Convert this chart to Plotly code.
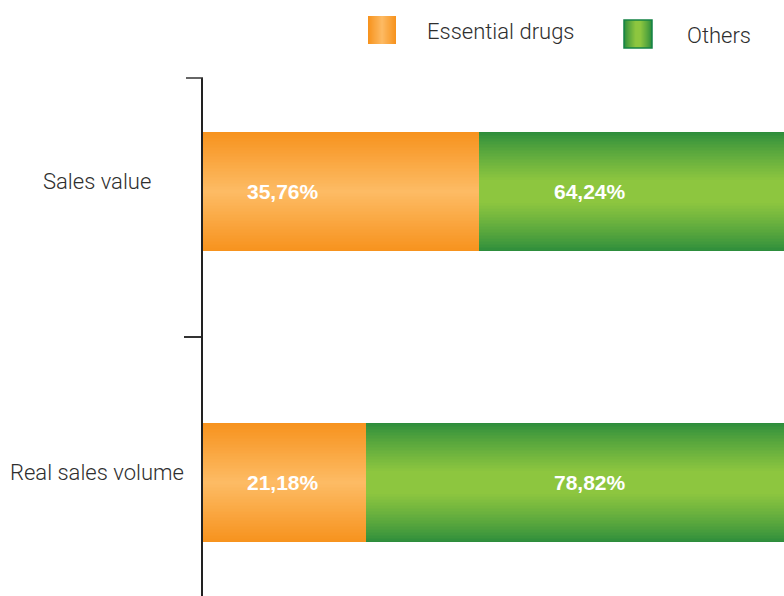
import plotly.graph_objects as go

categories = ["Sales value", "Real sales volume"]
essential = [35.76, 21.18]
others = [64.24, 78.82]
series_names = ["Essential drugs", "Others"]

W, H = 784, 596
L, R, T, B = 203, 0, 78, 0
PW, PH = W - L - R, H - T - B


def px(x):
    return (x - L) / PW


def py(y):
    return 1 - (y - T) / PH


def mix(c1, c2, f):
    return "rgb({},{},{})".format(*[round(a + (b - a) * f) for a, b in zip(c1, c2)])


ORANGE_EDGE, ORANGE_MID = (247, 147, 30), (253, 188, 102)
GREEN_EDGE, GREEN_MID = (45, 141, 60), (141, 198, 63)


def f_orange(t):
    return t


def f_green(t):
    return min(1.0, t / 0.8) ** 0.85


fig = go.Figure()
N = 40
BW = 0.41
for k in range(N):
    t = k / N
    w = BW * (1 - t)
    fig.add_trace(go.Bar(
        y=categories, x=essential, base=[0] * len(essential), orientation="h",
        width=w, marker=dict(color=mix(ORANGE_EDGE, ORANGE_MID, f_orange(t)), line=dict(width=0)),
        showlegend=False, hoverinfo="skip" if k else "x+y", name=series_names[0]))
    fig.add_trace(go.Bar(
        y=categories, x=others, base=essential, orientation="h",
        width=w, marker=dict(color=mix(GREEN_EDGE, GREEN_MID, f_green(t)), line=dict(width=0)),
        showlegend=False, hoverinfo="skip" if k else "x+y", name=series_names[1]))

FONT = "Roboto"
TXT = "#2e2e2e"
annotations = []
# category labels, centered at left
for c in categories:
    annotations.append(dict(x=px(97), xref="paper", y=c, yref="y", yshift=10,
                            text=c, showarrow=False, xanchor="center",
                            font=dict(family=FONT, size=22, color=TXT, weight=300)))


def fmt(v):
    return "{:.2f}%".format(v).replace(".", ",")


LBL = "Liberation Sans"
for c, e, o in zip(categories, essential, others):
    annotations.append(dict(x=px(283), xref="paper", y=c, yref="y", text="<b>" + fmt(e) + "</b>",
                            xanchor="center", yanchor="middle",
                            showarrow=False, font=dict(family=LBL, size=21, color="white")))
    annotations.append(dict(x=px(590), xref="paper", y=c, yref="y", text="<b>" + fmt(o) + "</b>",
                            xanchor="center", yanchor="middle",
                            showarrow=False, font=dict(family=LBL, size=21, color="white")))

# legend
shapes = []
legend_items = [
    (series_names[0], 368, 16, ORANGE_EDGE, ORANGE_MID, f_orange, 425, 32, None),
    (series_names[1], 624, 20, GREEN_EDGE, GREEN_MID, f_green, 685, 36, "rgb(20,130,70)"),
]
S = 28
M = 14
for name, x0, y0, ce, cm, f, tx, ty, border in legend_items:
    for k in range(M):
        t = k / M
        d = S * t / 2
        shapes.append(dict(type="rect", xref="paper", yref="paper",
                           x0=px(x0 + d), x1=px(x0 + S - d), y0=py(y0), y1=py(y0 + S),
                           line=dict(width=0), fillcolor=mix(ce, cm, f(t)), layer="above"))
    if border:
        shapes.append(dict(type="rect", xref="paper", yref="paper",
                           x0=px(x0), x1=px(x0 + S), y0=py(y0), y1=py(y0 + S),
                           line=dict(width=1.5, color=border), fillcolor="rgba(0,0,0,0)"))
    annotations.append(dict(x=px(tx), xref="paper", y=py(ty), yref="paper", text=name,
                            xanchor="left", yanchor="middle", showarrow=False,
                            font=dict(family=FONT, size=22, color=TXT, weight=300)))

# top tick of y axis
shapes.append(dict(type="line", xref="paper", yref="paper", x0=px(186), x1=0, y0=1, y1=1,
                   line=dict(color="#333333", width=1.5)))

fig.update_layout(
    width=W, height=H, margin=dict(l=L, r=R, t=T, b=B),
    barmode="overlay", bargap=0,
    plot_bgcolor="white", paper_bgcolor="white",
    showlegend=False,
    xaxis=dict(range=[0, 75.4], visible=False, fixedrange=True),
    yaxis=dict(categoryorder="array", categoryarray=categories[::-1], range=[-0.39, 1.39],
               showticklabels=False, showline=True, linecolor="#222222", linewidth=1.5,
               ticks="outside", tickson="boundaries", ticklen=17, tickcolor="#333333",
               tickwidth=1.5, showgrid=False, zeroline=False),
    annotations=annotations, shapes=shapes,
)

fig.write_html("out.html")
